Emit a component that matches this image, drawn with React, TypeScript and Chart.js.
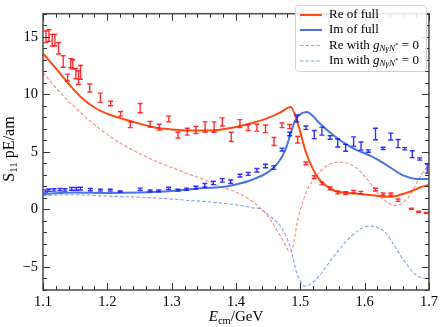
import React, { useEffect, useRef } from 'react';
import { Chart, registerables } from 'chart.js';
Chart.register(...registerables);

const FONT = '"Liberation Serif", "DejaVu Serif", serif';

// ---- tick labels ----
const xTicks = [1.1, 1.2, 1.3, 1.4, 1.5, 1.6, 1.7];
const yTicks = [-5, 0, 5, 10, 15];

// ---- Re data (red error bars) ----
const reE = [1.1046, 1.1093, 1.1144, 1.1186, 1.1243, 1.1314, 1.1382, 1.1433, 1.1464, 1.151, 1.1552, 1.1583, 1.1727, 1.1892, 1.2051, 1.2206, 1.2356, 1.2511, 1.2665, 1.2809, 1.2953, 1.3098, 1.3242, 1.3377, 1.352, 1.366, 1.3788, 1.3927, 1.4062, 1.419, 1.4325, 1.4459, 1.4592, 1.4716, 1.4835, 1.4959, 1.5087, 1.5217, 1.5335, 1.5464, 1.5582, 1.5705, 1.5829, 1.5944, 1.6169, 1.6288, 1.6407, 1.652, 1.6726, 1.684, 1.696];
const reV = [15.0, 15.1, 14.7, 14.7, 14.0, 12.85, 11.45, 12.7, 12.6, 11.8, 11.45, 11.9, 10.55, 9.7, 9.2, 8.3, 7.35, 8.8, 7.4, 7.15, 7.85, 6.45, 6.75, 6.9, 7.15, 7.15, 7.6, 6.3, 7.45, 7.1, 7.1, 7.0, 5.9, 7.3, 7.2, 6.05, 4.0, 2.8, 2.25, 1.83, 1.47, 1.42, 1.52, 1.47, 1.72, 1.33, 1.33, 0.8, 0.06, -0.2, -0.32];
const reErr = [0.5, 0.5, 0.5, 0.5, 0.5, 0.5, 0.3, 0.4, 0.4, 0.45, 0.6, 0.6, 0.35, 0.4, 0.2, 0.2, 0.25, 0.4, 0.25, 0.25, 0.25, 0.25, 0.3, 0.3, 0.45, 0.45, 0.35, 0.4, 0.35, 0.25, 0.3, 0.33, 0.35, 0.2, 0.18, 0.28, 0.12, 0.12, 0.12, 0.12, 0.12, 0.12, 0.12, 0.1, 0.12, 0.1, 0.1, 0.1, 0.05, 0.05, 0.05];

// ---- Im data (blue error bars) ----
const imE = [1.1041, 1.1093, 1.117, 1.1263, 1.134, 1.1444, 1.152, 1.1583, 1.1737, 1.1892, 1.2046, 1.2201, 1.2511, 1.2665, 1.2799, 1.2953, 1.3098, 1.3232, 1.3377, 1.3516, 1.3649, 1.3788, 1.3918, 1.4062, 1.419, 1.4325, 1.4459, 1.4588, 1.4716, 1.4835, 1.4948, 1.5087, 1.5217, 1.5335, 1.5464, 1.5582, 1.5705, 1.5829, 1.5944, 1.6057, 1.6169, 1.6288, 1.6407, 1.652, 1.6624, 1.6741, 1.6856, 1.6973];
const imV = [1.6, 1.67, 1.69, 1.72, 1.69, 1.78, 1.78, 1.8, 1.72, 1.67, 1.67, 1.56, 1.75, 1.6, 1.6, 1.83, 1.67, 1.75, 1.89, 2.1, 2.3, 2.52, 2.4, 2.94, 3.08, 3.4, 3.77, 3.63, 5.2, 6.55, 7.9, 7.1, 6.5, 6.8, 6.25, 5.77, 5.35, 5.9, 5.5, 5.07, 6.55, 5.3, 6.33, 5.72, 5.27, 4.8, 4.38, 3.55];
const imErr = [0.1, 0.1, 0.1, 0.1, 0.1, 0.12, 0.12, 0.12, 0.1, 0.08, 0.08, 0.05, 0.1, 0.08, 0.08, 0.1, 0.08, 0.1, 0.12, 0.15, 0.15, 0.15, 0.15, 0.12, 0.12, 0.15, 0.15, 0.15, 0.12, 0.15, 0.3, 0.15, 0.35, 0.35, 0.15, 0.35, 0.3, 0.4, 0.35, 0.1, 0.5, 0.1, 0.3, 0.35, 0.1, 0.3, 0.1, 0.4];

// ---- Re of full ----
const reFullE = [1.1, 1.12, 1.14, 1.16, 1.18, 1.2, 1.225, 1.25, 1.275, 1.3, 1.325, 1.35, 1.375, 1.4, 1.425, 1.45, 1.47, 1.485, 1.497, 1.508, 1.518, 1.528, 1.54, 1.554, 1.57, 1.585, 1.6, 1.616, 1.632, 1.642, 1.657, 1.673, 1.686, 1.7];
const reFullV = [13.55, 12.25, 10.9, 9.7, 8.85, 8.3, 7.85, 7.45, 7.1, 6.95, 6.85, 6.85, 6.93, 7.15, 7.5, 7.95, 8.45, 8.9, 7.3, 5.1, 3.7, 2.72, 2.05, 1.6, 1.45, 1.38, 1.3, 1.2, 1.1, 1.1, 1.3, 1.6, 1.9, 2.15];

// ---- Im of full ----
const imFullE = [1.1, 1.125, 1.15, 1.2, 1.25, 1.3, 1.35, 1.375, 1.4, 1.425, 1.451, 1.466, 1.477, 1.485, 1.492, 1.5, 1.51, 1.52, 1.528, 1.554, 1.58, 1.61, 1.63, 1.66, 1.68, 1.7];
const imFullV = [1.33, 1.42, 1.47, 1.43, 1.47, 1.6, 1.85, 1.92, 2.17, 2.58, 3.28, 4.1, 5.2, 6.6, 7.72, 8.27, 8.47, 8.1, 7.6, 6.33, 5.36, 4.62, 4.0, 2.95, 2.65, 2.63];

// ---- Re with g = 0 ----
const reZeroE = [1.1, 1.125, 1.15, 1.175, 1.2, 1.225, 1.25, 1.275, 1.3, 1.325, 1.35, 1.375, 1.4, 1.42, 1.44, 1.455, 1.47, 1.485, 1.497, 1.51, 1.525, 1.54, 1.56, 1.585, 1.61, 1.626, 1.648, 1.668, 1.688, 1.7];
const reZeroV = [11.9, 10.25, 8.85, 7.6, 6.5, 5.6, 4.85, 4.2, 3.65, 3.1, 2.6, 2.0, 1.5, 0.9, 0.0, -1.0, -2.4, -3.7, -0.7, 1.6, 2.9, 3.75, 4.1, 3.7, 2.2, 1.05, 0.35, 1.05, 3.0, 3.85];

// ---- Im with g = 0 ----
const imZeroE = [1.1, 1.15, 1.2, 1.25, 1.3, 1.327, 1.35, 1.375, 1.405, 1.425, 1.44, 1.451, 1.472, 1.485, 1.495, 1.508, 1.523, 1.554, 1.58, 1.608, 1.632, 1.652, 1.662, 1.678, 1.69, 1.7];
const imZeroV = [1.2, 1.28, 1.15, 1.06, 0.9, 0.78, 0.7, 0.56, 0.36, 0.15, 0.0, -0.5, -1.7, -3.4, -5.6, -6.65, -6.15, -3.94, -2.28, -1.44, -2.0, -3.67, -4.5, -5.6, -5.95, -6.0];

const COL_RE = '#ff4a12';
const COL_IM = '#4a74e0';
const COL_RE0 = '#f48a80';
const COL_IM0 = '#7fa2ee';

const pts = (xs: number[], ys: number[]) => xs.map((x, i) => ({ x, y: ys[i] }));

type Seg = { t: string; size: number; italic?: boolean; dy?: number };

function segWidth(ctx: CanvasRenderingContext2D, segs: Seg[]) {
  let w = 0;
  for (const s of segs) {
    ctx.font = `${s.italic ? 'italic ' : ''}${s.size}px ${FONT}`;
    w += ctx.measureText(s.t).width;
  }
  return w;
}
function drawSegs(ctx: CanvasRenderingContext2D, segs: Seg[], x: number, y: number) {
  let cx = x;
  for (const s of segs) {
    ctx.font = `${s.italic ? 'italic ' : ''}${s.size}px ${FONT}`;
    ctx.fillText(s.t, cx, y + (s.dy || 0));
    cx += ctx.measureText(s.t).width;
  }
}

const LF = 13;
const gSegs = (pre: string): Seg[] => [
  { t: pre, size: LF },
  { t: 'g', size: LF, italic: true },
  { t: 'NγN', size: 9, italic: true, dy: 3 },
  { t: '*', size: 7, italic: false, dy: -0.5 },
  { t: ' = 0', size: LF },
];

const legendItems = [
  { segs: [{ t: 'Re of full', size: LF }] as Seg[], color: COL_RE, dash: [] as number[], width: 2 },
  { segs: [{ t: 'Im of full', size: LF }] as Seg[], color: COL_IM, dash: [] as number[], width: 2 },
  { segs: gSegs('Re with '), color: COL_RE0, dash: [3.5, 2], width: 1.2 },
  { segs: gSegs('Im with '), color: COL_IM0, dash: [3.5, 2], width: 1.2 },
];

const deco = {
  id: 'deco',
  afterDatasetsDraw(chart: any) {
    const { ctx, chartArea: a, scales } = chart;
    const xs = scales.x, ys = scales.y;
    ctx.save();
    // error bars
    const drawErr = (es: number[], vs: number[], errs: number[], color: string) => {
      ctx.strokeStyle = color;
      ctx.lineWidth = 1.4;
      es.forEach((e, i) => {
        const px = xs.getPixelForValue(e);
        const y1 = ys.getPixelForValue(vs[i] - errs[i]);
        const y2 = ys.getPixelForValue(vs[i] + errs[i]);
        ctx.beginPath();
        ctx.moveTo(px, y1); ctx.lineTo(px, y2);
        ctx.moveTo(px - 2.5, y1); ctx.lineTo(px + 2.5, y1);
        ctx.moveTo(px - 2.5, y2); ctx.lineTo(px + 2.5, y2);
        ctx.stroke();
      });
    };
    drawErr(reE, reV, reErr, 'rgba(255,10,10,0.85)');
    drawErr(imE, imV, imErr, 'rgba(10,10,255,0.85)');

    // frame
    ctx.strokeStyle = '#555';
    ctx.lineWidth = 1.6;
    ctx.strokeRect(a.left, a.top, a.right - a.left, a.bottom - a.top);

    // ticks
    ctx.lineWidth = 1;
    ctx.strokeStyle = '#333';
    ctx.beginPath();
    for (let k = 0; k <= 30; k++) {
      const v = 1.1 + k * 0.02;
      const major = k % 5 === 0;
      const L = major ? 7 : 4;
      const px = Math.round(xs.getPixelForValue(v)) + 0.5;
      ctx.moveTo(px, a.bottom); ctx.lineTo(px, a.bottom - L);
      ctx.moveTo(px, a.top); ctx.lineTo(px, a.top + L);
    }
    for (let v = -7; v <= 17; v++) {
      const major = v % 5 === 0;
      const L = major ? 7 : 4;
      const py = Math.round(ys.getPixelForValue(v)) + 0.5;
      ctx.moveTo(a.left, py); ctx.lineTo(a.left + L, py);
      ctx.moveTo(a.right, py); ctx.lineTo(a.right - L, py);
    }
    ctx.stroke();

    // legend
    const bx = 295, by = 5, bw = 131, bh = 66;
    ctx.fillStyle = 'rgba(255,255,255,0.85)';
    ctx.strokeStyle = '#d0d0d0';
    ctx.lineWidth = 1;
    ctx.beginPath();
    ctx.roundRect(bx + 0.5, by + 0.5, bw, bh, 3);
    ctx.fill();
    ctx.stroke();
    const rowY = [15, 30, 45.5, 61];
    legendItems.forEach((it, i) => {
      ctx.strokeStyle = it.color;
      ctx.lineWidth = it.width;
      ctx.setLineDash(it.dash);
      ctx.beginPath();
      ctx.moveTo(300, rowY[i]); ctx.lineTo(322, rowY[i]);
      ctx.stroke();
      ctx.setLineDash([]);
      ctx.fillStyle = '#000';
      ctx.textBaseline = 'middle';
      ctx.textAlign = 'left';
      drawSegs(ctx, it.segs, 329, rowY[i]);
    });

    // axis titles
    ctx.fillStyle = '#000';
    ctx.textBaseline = 'alphabetic';
    const xt: Seg[] = [
      { t: 'E', size: 15, italic: true },
      { t: 'cm', size: 10.5, dy: 3 },
      { t: '/GeV', size: 15 },
    ];
    const xw = segWidth(ctx, xt);
    drawSegs(ctx, xt, (a.left + a.right) / 2 - xw / 2, 321);

    const yt: Seg[] = [
      { t: 'S', size: 16 },
      { t: '11', size: 11, dy: 3 },
      { t: ' pE/am', size: 16 },
    ];
    const yw = segWidth(ctx, yt);
    ctx.translate(14, 149);
    ctx.rotate(-Math.PI / 2);
    drawSegs(ctx, yt, -yw / 2, 0);
    ctx.restore();
  },
};

export default function App() {
  const ref = useRef<HTMLCanvasElement>(null);
  useEffect(() => {
    document.body.style.margin = '0';
    const canvas = ref.current!;
    const chart = new Chart(canvas, {
      type: 'scatter',
      data: {
        datasets: [
          { label: 'Re of full', data: pts(reFullE, reFullV), showLine: true, borderColor: COL_RE, borderWidth: 2, pointRadius: 0, cubicInterpolationMode: 'monotone' },
          { label: 'Im of full', data: pts(imFullE, imFullV), showLine: true, borderColor: COL_IM, borderWidth: 2, pointRadius: 0, cubicInterpolationMode: 'monotone' },
          { label: 'Re with g=0', data: pts(reZeroE, reZeroV), showLine: true, borderColor: COL_RE0, borderWidth: 1.1, borderDash: [3.5, 2], pointRadius: 0, cubicInterpolationMode: 'monotone' },
          { label: 'Im with g=0', data: pts(imZeroE, imZeroV), showLine: true, borderColor: COL_IM0, borderWidth: 1.1, borderDash: [3.5, 2], pointRadius: 0, cubicInterpolationMode: 'monotone' },
        ] as any,
      },
      options: {
        animation: false,
        responsive: false,
        devicePixelRatio: 1,
        layout: { padding: { top: 2, right: 10, left: 0, bottom: 0 } },
        plugins: { legend: { display: false }, tooltip: { enabled: false } },
        scales: {
          x: {
            type: 'linear', min: 1.1, max: 1.7,
            afterBuildTicks: (s: any) => { s.ticks = xTicks.map((v) => ({ value: v })); },
            afterFit: (s: any) => { s.height = 37; },
            ticks: { font: { family: FONT, size: 14.5 }, color: '#000', padding: 3, maxRotation: 0, autoSkip: false, callback: (v: any) => Number(v).toFixed(1) },
            grid: { display: false, drawTicks: false },
            border: { display: false },
          },
          y: {
            type: 'linear', min: -7, max: 17,
            afterBuildTicks: (s: any) => { s.ticks = yTicks.map((v) => ({ value: v })); },
            afterFit: (s: any) => { s.width = 43; },
            ticks: { font: { family: FONT, size: 14.5 }, color: '#000', padding: 5, autoSkip: false, callback: (v: any) => (v < 0 ? '\u2212' + Math.abs(v) : String(v)) },
            grid: { display: false, drawTicks: false },
            border: { display: false },
          },
        },
      } as any,
      plugins: [deco],
    });
    return () => chart.destroy();
  }, []);
  return <canvas ref={ref} width={441} height={327} style={{ display: 'block', width: 441, height: 327 }} />;
}
